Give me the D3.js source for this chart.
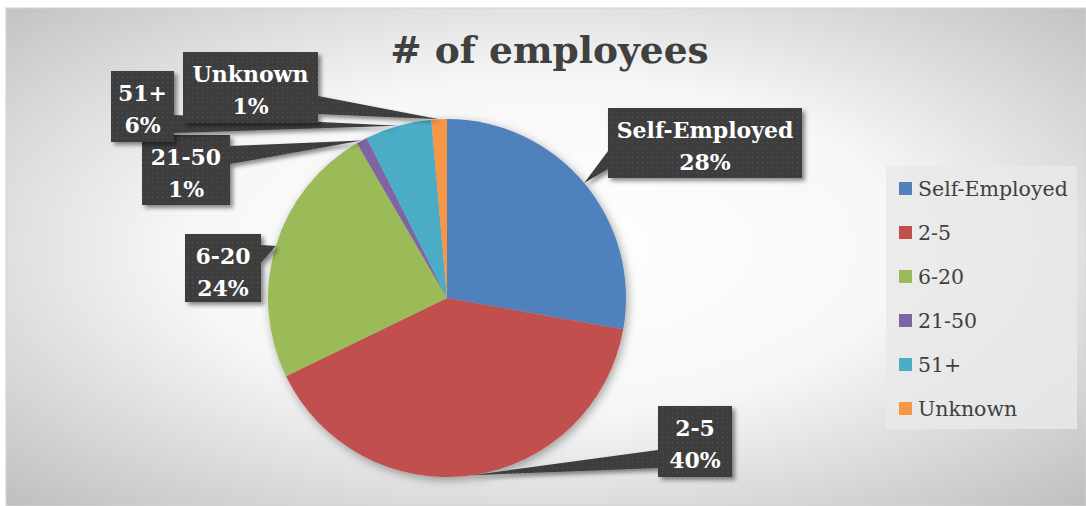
<!DOCTYPE html>
<html><head><meta charset="utf-8">
<script src="https://cdn.jsdelivr.net/npm/d3@7"></script>
<style>html,body{margin:0;padding:0;background:#fff;} svg{display:block}</style>
</head><body>
<svg id="c" width="1086" height="506"></svg>
<script>
const categories = ["Self-Employed","2-5","6-20","21-50","51+","Unknown"];
const shares = [27.8, 40.0, 23.8, 1.0, 6.0, 1.4];
const colors = ["#4F81BD","#C0504D","#9BBB59","#8064A2","#4BACC6","#F79646"];
const chartTitle = "# of employees";

// label callout layout (box centre and size), kept apart from the data
const labelLayout = {
  "Self-Employed": {cx:705, cy:143, w:194, h:70},
  "2-5":           {cx:695, cy:441.5, w:74, h:71},
  "6-20":          {cx:223, cy:268, w:76, h:68},
  "21-50":         {cx:186, cy:170, w:88, h:70},
  "51+":           {cx:142.5, cy:106.5, w:63, h:71},
  "Unknown":       {cx:250.5, cy:87.5, w:135, h:71}
};

const svg = d3.select("#c");
const defs = svg.append("defs");

const bg = defs.append("radialGradient").attr("id","bg")
  .attr("cx","0.5").attr("cy","0.48").attr("r","0.74");
bg.append("stop").attr("offset","0").attr("stop-color","#ffffff");
bg.append("stop").attr("offset","0.45").attr("stop-color","#f7f7f7");
bg.append("stop").attr("offset","1").attr("stop-color","#bcbcbc");

const pat = defs.append("pattern").attr("id","dots")
  .attr("width",5).attr("height",5).attr("patternUnits","userSpaceOnUse");
pat.append("rect").attr("width",5).attr("height",5).attr("fill","#3c3c3c");
pat.append("rect").attr("x",2).attr("y",2).attr("width",1.3).attr("height",1.3).attr("fill","#515151");

const sh = defs.append("filter").attr("id","boxShadow")
  .attr("x","-20%").attr("y","-20%").attr("width","150%").attr("height","150%");
sh.append("feDropShadow").attr("dx",3).attr("dy",3).attr("stdDeviation",2.2)
  .attr("flood-color","#000").attr("flood-opacity",0.45);

const psh = defs.append("filter").attr("id","pieShadow")
  .attr("x","-20%").attr("y","-20%").attr("width","140%").attr("height","140%");
psh.append("feDropShadow").attr("dx",2).attr("dy",3).attr("stdDeviation",5)
  .attr("flood-color","#000").attr("flood-opacity",0.35);

// chart area
svg.append("rect").attr("x",6).attr("y",8).attr("width",1080).attr("height",498)
  .attr("fill","url(#bg)").attr("stroke","#d4d4d4").attr("stroke-width",1);

// title
svg.append("text").attr("x",549.5).attr("y",63).attr("text-anchor","middle")
  .attr("font-family","'DejaVu Serif', serif").attr("font-weight","bold")
  .attr("font-size",37.5).attr("fill","#404040").text(chartTitle);

// pie
const data = categories.map((c,i)=>({cat:c, v:shares[i], color:colors[i]}));
const total = d3.sum(shares);
const cx = 447, cy = 298, R = 179;
const pie = d3.pie().sort(null).value(d=>d.v);
const arcs = pie(data);
const arc = d3.arc().innerRadius(0).outerRadius(R);
const edge = d3.arc().innerRadius(R).outerRadius(R);

const pg = svg.append("g").attr("transform",`translate(${cx},${cy})`).attr("filter","url(#pieShadow)");
pg.selectAll("path").data(arcs).join("path")
  .attr("d",arc).attr("fill",d=>d.data.color);

// callouts
const lg = svg.append("g");
arcs.forEach(d=>{
  const L = labelLayout[d.data.cat];
  const c = edge.centroid(d);
  const tx = cx + c[0], ty = cy + c[1];
  const left = L.cx - L.w/2, right = L.cx + L.w/2, top = L.cy - L.h/2, bottom = L.cy + L.h/2;
  const mid = Math.max(top+20, Math.min(bottom-18, ty));
  const b0 = mid-9, b1 = mid+9;
  let p;
  if (tx > right) {
    p = `M${left},${top}L${right},${top}L${right},${b0}L${tx},${ty}L${right},${b1}L${right},${bottom}L${left},${bottom}Z`;
  } else {
    p = `M${left},${top}L${right},${top}L${right},${bottom}L${left},${bottom}L${left},${b1}L${tx},${ty}L${left},${b0}Z`;
  }
  const g = lg.append("g");
  g.append("path").attr("d",p).attr("fill","url(#dots)").attr("filter","url(#boxShadow)");
  const pct = Math.round(d.data.v/total*100) + "%";
  const t = g.append("text").attr("text-anchor","middle")
    .attr("font-family","'DejaVu Serif', serif").attr("font-weight","bold")
    .attr("font-size",22).attr("fill","#ffffff");
  t.append("tspan").attr("x",L.cx).attr("y",top+29.5).text(d.data.cat);
  t.append("tspan").attr("x",L.cx).attr("y",top+62).text(pct);
});

// legend
const leg = svg.append("g");
leg.append("rect").attr("x",886).attr("y",166).attr("width",191).attr("height",263)
  .attr("fill","#e9e9e9").attr("fill-opacity",0.85);
const items = leg.selectAll("g.item").data(data).join("g").attr("class","item")
  .attr("transform",(d,i)=>`translate(899,${188.5 + i*44})`);
items.append("rect").attr("x",0).attr("y",-6.5).attr("width",13).attr("height",13).attr("fill",d=>d.color);
items.append("text").attr("x",19).attr("y",0).attr("dy","0.36em")
  .attr("font-family","'DejaVu Serif', serif").attr("font-size",20.5).attr("fill","#404040")
  .text(d=>d.cat);
</script>
</body></html>
